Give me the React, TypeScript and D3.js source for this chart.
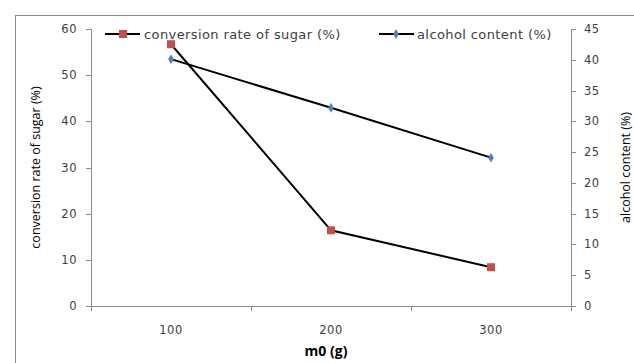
import React from 'react';
import * as d3 from 'd3';

const categories = ['100', '200', '300'];
const conversionRate = [56.7, 16.4, 8.4];
const alcoholContent = [40.1, 32.2, 24.1];
const leftTicks = [0, 10, 20, 30, 40, 50, 60];
const rightTicks = [0, 5, 10, 15, 20, 25, 30, 35, 40, 45];

const W = 634;
const H = 363;
const margin = { top: 29, right: 63, bottom: 57, left: 91 };
const font = "'DejaVu Sans', sans-serif";
const titleFont = "'Open Sans', sans-serif";

const App = () => {
  const x0 = margin.left;
  const x1 = W - margin.right;
  const y0 = H - margin.bottom;
  const y1 = margin.top;

  const xScale = d3.scaleBand().domain(categories).range([x0, x1]);
  const yLeft = d3.scaleLinear().domain([0, 60]).range([y0, y1]);
  const yRight = d3.scaleLinear().domain([0, 45]).range([y0, y1]);
  const cx = (c) => xScale(c) + xScale.bandwidth() / 2;

  const convLine = d3
    .line()
    .x((d, i) => cx(categories[i]))
    .y((d) => yLeft(d));
  const alcLine = d3
    .line()
    .x((d, i) => cx(categories[i]))
    .y((d) => yRight(d));

  const bandEdges = categories.map((c) => xScale(c)).concat([x1]);
  const axisColor = '#8c8c8c';
  const textColor = '#404040';

  return (
    <svg width={W} height={H} style={{ position: 'absolute', left: 0, top: 0, background: '#fff' }}>
      {/* outer frame */}
      <rect x={15.5} y={15.5} width={W} height={H} fill="none" stroke="#888" strokeWidth={1} />

      {/* left axis */}
      <line x1={x0 + 0.5} x2={x0 + 0.5} y1={y1} y2={y0} stroke={axisColor} />
      {leftTicks.map((t) => (
        <g key={'l' + t}>
          <line x1={x0 - 5} x2={x0} y1={Math.round(yLeft(t)) + 0.5} y2={Math.round(yLeft(t)) + 0.5} stroke={axisColor} />
          <text x={x0 - 14} y={yLeft(t) + 4} textAnchor="end" fontSize={11.5} letterSpacing={0.5} fontFamily={font} fill={textColor}>
            {t}
          </text>
        </g>
      ))}

      {/* right axis */}
      <line x1={x1 + 0.5} x2={x1 + 0.5} y1={y1} y2={y0} stroke={axisColor} />
      {rightTicks.map((t) => (
        <g key={'r' + t}>
          <line x1={x1} x2={x1 + 5} y1={Math.round(yRight(t)) + 0.5} y2={Math.round(yRight(t)) + 0.5} stroke={axisColor} />
          <text x={x1 + 13} y={yRight(t) + 4} textAnchor="start" fontSize={11.5} letterSpacing={0.5} fontFamily={font} fill={textColor}>
            {t}
          </text>
        </g>
      ))}

      {/* x axis */}
      <line x1={x0 - 5} x2={x1 + 5} y1={y0 + 0.5} y2={y0 + 0.5} stroke={axisColor} />
      {bandEdges.map((e, i) => (
        <line key={'xt' + i} x1={e + 0.5} x2={e + 0.5} y1={y0} y2={y0 + 5} stroke={axisColor} />
      ))}
      {categories.map((c) => (
        <text key={'xl' + c} x={cx(c)} y={y0 + 28} textAnchor="middle" fontSize={11.5} letterSpacing={0.5} fontFamily={font} fill={textColor}>
          {c}
        </text>
      ))}

      {/* axis titles */}
      <text x={cx('200') - 5} y={356} textAnchor="middle" fontSize={14} fontWeight="bold" fontFamily={titleFont} fill="#000">
        m0 (g)
      </text>
      <text
        transform={`translate(40, ${(y0 + y1) / 2}) rotate(-90)`}
        textAnchor="middle"
        fontSize={12.5}
        fontFamily={titleFont}
        fill="#000"
      >
        conversion rate of sugar (%)
      </text>
      <text
        transform={`translate(630, ${(y0 + y1) / 2}) rotate(-90)`}
        textAnchor="middle"
        fontSize={12.5}
        fontFamily={titleFont}
        fill="#000"
      >
        alcohol content (%)
      </text>

      {/* series */}
      <path d={alcLine(alcoholContent)} fill="none" stroke="#000" strokeWidth={2} />
      <path d={convLine(conversionRate)} fill="none" stroke="#000" strokeWidth={2} />
      {conversionRate.map((v, i) => (
        <rect key={'c' + i} x={cx(categories[i]) - 4} y={yLeft(v) - 4} width={8} height={8} fill="#c0504d" />
      ))}
      {alcoholContent.map((v, i) => (
        <path
          key={'a' + i}
          d={d3.symbol(d3.symbolDiamond, 28)()}
          transform={`translate(${cx(categories[i])}, ${yRight(v)})`}
          fill="#4f81bd"
        />
      ))}

      {/* legend */}
      <g>
        <line x1={105} x2={140} y1={34} y2={34} stroke="#000" strokeWidth={2} />
        <rect x={119} y={30} width={8} height={8} fill="#c0504d" />
        <text x={144} y={39} fontSize={13} letterSpacing={0.4} fontFamily={font} fill={textColor}>
          conversion rate of sugar (%)
        </text>
        <line x1={379} x2={414} y1={34} y2={34} stroke="#000" strokeWidth={2} />
        <path d={d3.symbol(d3.symbolDiamond, 28)()} transform="translate(396, 34)" fill="#4f81bd" />
        <text x={417} y={39} fontSize={13} letterSpacing={0.4} fontFamily={font} fill={textColor}>
          alcohol content (%)
        </text>
      </g>
    </svg>
  );
};

export default App;
